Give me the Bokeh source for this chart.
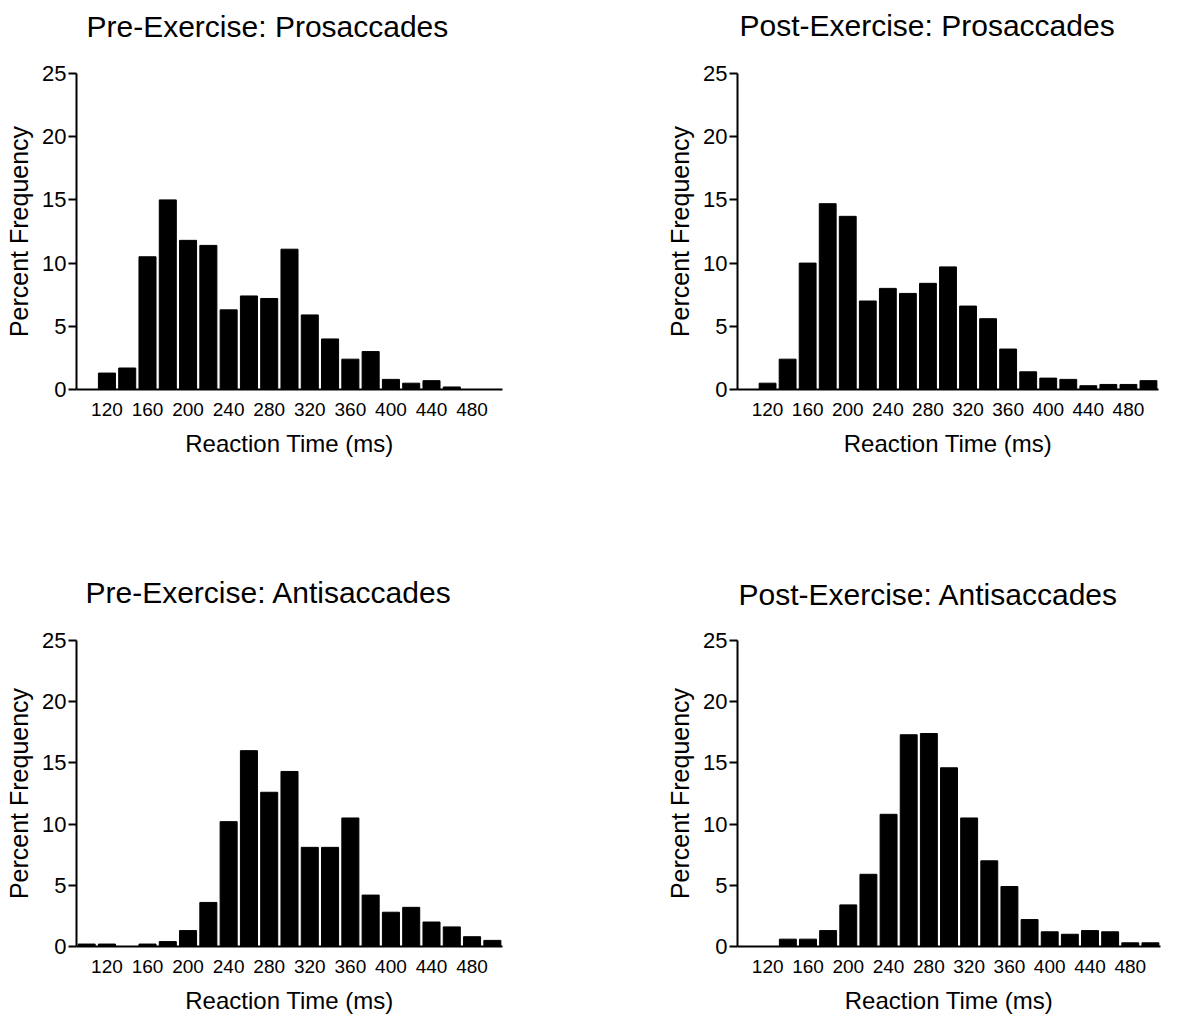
from bokeh.plotting import figure
from bokeh.models import Range1d, FixedTicker, Title, LinearAxis
from bokeh.layouts import column, row
from bokeh.embed import file_html
from bokeh.resources import INLINE

# Bin centres (ms)
bins = [100, 120, 140, 160, 180, 200, 220, 240, 260, 280, 300,
        320, 340, 360, 380, 400, 420, 440, 460, 480, 500]
x_tick_values = [120, 160, 200, 240, 280, 320, 360, 400, 440, 480]
y_tick_values = [0, 5, 10, 15, 20, 25]

titles = ["Pre-Exercise: Prosaccades", "Post-Exercise: Prosaccades",
          "Pre-Exercise: Antisaccades", "Post-Exercise: Antisaccades"]

pre_pro = [0, 1.3, 1.7, 10.5, 15.0, 11.8, 11.4, 6.3, 7.4, 7.2, 11.1,
           5.9, 4.0, 2.4, 3.0, 0.8, 0.5, 0.7, 0.2, 0, 0]
post_pro = [0, 0.5, 2.4, 10.0, 14.7, 13.7, 7.0, 8.0, 7.6, 8.4, 9.7,
            6.6, 5.6, 3.2, 1.4, 0.9, 0.8, 0.3, 0.4, 0.4, 0.7]
pre_anti = [0.2, 0.2, 0, 0.2, 0.4, 1.3, 3.6, 10.2, 16.0, 12.6, 14.3,
            8.1, 8.1, 10.5, 4.2, 2.8, 3.2, 2.0, 1.6, 0.8, 0.5]
post_anti = [0, 0, 0.6, 0.6, 1.3, 3.4, 5.9, 10.8, 17.3, 17.4, 14.6,
             10.5, 7.0, 4.9, 2.2, 1.2, 1.0, 1.3, 1.2, 0.3, 0.3]

FONT = "Liberation Sans"


def make(title, vals, w, h, left, right, top, bottom, toff, gap):
    p = figure(width=w, height=h, output_backend="svg", toolbar_location=None,
               x_range=Range1d(90, 510), y_range=Range1d(0, 25), title=None,
               min_border_left=left, min_border_right=right,
               min_border_top=top, min_border_bottom=bottom)
    p.background_fill_color = "white"
    p.border_fill_color = "white"
    p.outline_line_color = None
    p.xgrid.visible = False
    p.ygrid.visible = False

    xa = p.below[0]
    ya = p.left[0]

    # invisible spacer between the plot frame and the title
    spacer = LinearAxis(ticker=FixedTicker(ticks=[300]), axis_line_color=None,
                        major_tick_out=gap, major_tick_in=0,
                        minor_tick_out=0, minor_tick_in=0,
                        major_tick_line_color=None, minor_tick_line_color=None,
                        major_label_standoff=0, axis_label_standoff=0,
                        major_label_overrides={300: ""},
                        major_label_text_font_size="0px")
    p.add_layout(spacer, "above")
    p.add_layout(Title(text=title, text_font=FONT, text_font_size="30px",
                       text_font_style="normal", text_color="black",
                       align="left", offset=toff, standoff=0,
                       vertical_align="bottom"), "above")

    p.vbar(x=bins, top=vals, width=16.8, bottom=0,
           fill_color="black", line_color="black", line_width=1)

    xa.ticker = FixedTicker(ticks=x_tick_values)
    xa.major_tick_out = 0
    xa.major_tick_in = 0
    xa.minor_tick_out = 0
    xa.minor_tick_in = 0
    xa.axis_line_width = 2
    xa.axis_line_color = "black"
    xa.major_label_text_font = FONT
    xa.major_label_text_font_size = "19px"
    xa.major_label_text_color = "black"
    xa.major_label_standoff = 13
    xa.axis_label = "Reaction Time (ms)"
    xa.axis_label_text_font = FONT
    xa.axis_label_text_font_size = "24px"
    xa.axis_label_text_font_style = "normal"
    xa.axis_label_text_color = "black"
    xa.axis_label_standoff = 11

    ya.ticker = FixedTicker(ticks=y_tick_values)
    ya.major_tick_out = 8
    ya.major_tick_in = 0
    ya.minor_tick_out = 0
    ya.minor_tick_in = 0
    ya.major_tick_line_width = 2
    ya.major_tick_line_color = "black"
    ya.axis_line_width = 2
    ya.axis_line_color = "black"
    ya.major_label_text_font = FONT
    ya.major_label_text_font_size = "22px"
    ya.major_label_text_color = "black"
    ya.major_label_standoff = 2
    ya.axis_label = "Percent Frequency"
    ya.axis_label_text_font = FONT
    ya.axis_label_text_font_size = "25px"
    ya.axis_label_text_font_style = "normal"
    ya.axis_label_text_color = "black"
    ya.axis_label_standoff = 6
    return p


p1 = make(titles[0], pre_pro, 640, 560, 76, 138, 73, 171, 10, 31)
p2 = make(titles[1], post_pro, 541, 560, 97, 23, 72, 171, 2, 32)
p3 = make(titles[2], pre_anti, 640, 467, 76, 138, 80, 70, 9, 32)
p4 = make(titles[3], post_anti, 541, 467, 97, 21, 68, 81, 1, 30)

layout = column(row(p1, p2), row(p3, p4))

open("out.html", "w").write(file_html(layout, INLINE))
